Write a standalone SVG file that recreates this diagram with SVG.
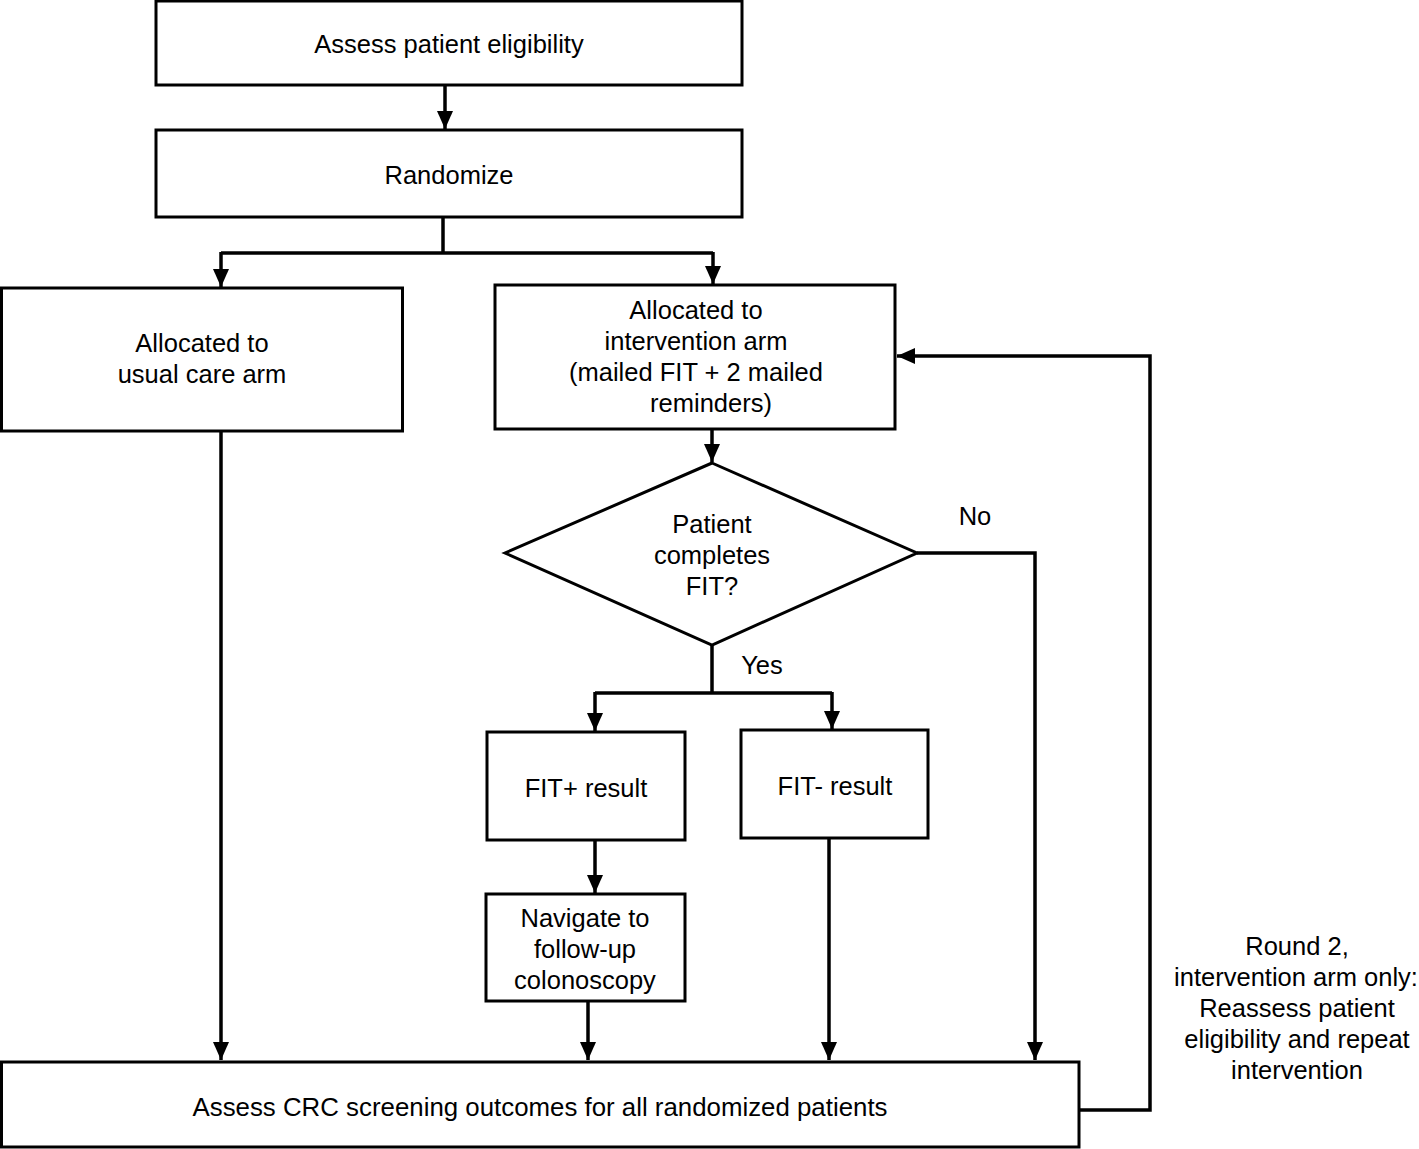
<svg xmlns="http://www.w3.org/2000/svg" width="1419" height="1149" viewBox="0 0 1419 1149">
<style>
.box{fill:#fff;stroke:#000;stroke-width:3}
.t{font-family:"Liberation Sans",Arial,sans-serif;font-size:25.5px;fill:#000;text-anchor:middle}
.c{fill:none;stroke:#000;stroke-width:3.5}
</style>
<defs>
<marker id="ah" markerUnits="userSpaceOnUse" markerWidth="20" markerHeight="18" refX="18" refY="8" orient="auto">
<path d="M0,0 L18,8 L0,16 Z" fill="#000"/>
</marker>
</defs>
<rect width="1419" height="1149" fill="#fff"/>
<g id="connectors">
<path class="c" d="M445,85 V129" marker-end="url(#ah)"/>
<path class="c" d="M443,217 V253"/>
<path class="c" d="M221,253 H713"/>
<path class="c" d="M221,252 V287" marker-end="url(#ah)"/>
<path class="c" d="M713,252 V284" marker-end="url(#ah)"/>
<path class="c" d="M712,429 V462" marker-end="url(#ah)"/>
<path class="c" d="M917,553 H1035 V1060" marker-end="url(#ah)"/>
<path class="c" d="M712,645 V693"/>
<path class="c" d="M595,693 H832"/>
<path class="c" d="M595,692 V731" marker-end="url(#ah)"/>
<path class="c" d="M832,692 V729" marker-end="url(#ah)"/>
<path class="c" d="M595,840 V893" marker-end="url(#ah)"/>
<path class="c" d="M221,431 V1060" marker-end="url(#ah)"/>
<path class="c" d="M588,1001 V1060" marker-end="url(#ah)"/>
<path class="c" d="M829,838 V1060" marker-end="url(#ah)"/>
<path class="c" d="M1079,1110 H1150 V356 H897" marker-end="url(#ah)"/>
<text class="t" x="975" y="525">No</text>
<text class="t" x="762" y="674">Yes</text>
</g>
<g id="n1">
<rect class="box" x="156" y="1" width="586" height="84"/>
<text class="t" x="449" y="53">Assess patient eligibility</text>
</g>
<g id="n2">
<rect class="box" x="156" y="130" width="586" height="87"/>
<text class="t" x="449" y="184">Randomize</text>
</g>
<g id="n3">
<rect class="box" x="1.5" y="288" width="401" height="143"/>
<text class="t" x="202" y="352">Allocated to</text>
<text class="t" x="202" y="383">usual care arm</text>
</g>
<g id="n4">
<rect class="box" x="495" y="285" width="400" height="144"/>
<text class="t" x="696" y="319">Allocated to</text>
<text class="t" x="696" y="350">intervention arm</text>
<text class="t" x="696" y="381">(mailed FIT + 2 mailed</text>
<text class="t" x="711" y="412">reminders)</text>
</g>
<g id="n5">
<polygon class="box" points="712,463 917,553 712,645 505,553"/>
<text class="t" x="712" y="533">Patient</text>
<text class="t" x="712" y="564">completes</text>
<text class="t" x="712" y="595">FIT?</text>
</g>
<g id="n6">
<rect class="box" x="487" y="732" width="198" height="108"/>
<text class="t" x="586" y="797">FIT+ result</text>
</g>
<g id="n7">
<rect class="box" x="741" y="730" width="187" height="108"/>
<text class="t" x="835" y="795">FIT- result</text>
</g>
<g id="n8">
<rect class="box" x="486" y="894" width="199" height="107"/>
<text class="t" x="585" y="927">Navigate to</text>
<text class="t" x="585" y="958">follow-up</text>
<text class="t" x="585" y="989">colonoscopy</text>
</g>
<g id="n9">
<rect class="box" x="1.5" y="1062" width="1077.5" height="85"/>
<text class="t" x="540" y="1116" textLength="695" lengthAdjust="spacingAndGlyphs">Assess CRC screening outcomes for all randomized patients</text>
</g>
<g id="note">
<text class="t" x="1297" y="955">Round 2,</text>
<text class="t" x="1296" y="986">intervention arm only:</text>
<text class="t" x="1297" y="1017">Reassess patient</text>
<text class="t" x="1297" y="1048">eligibility and repeat</text>
<text class="t" x="1297" y="1079">intervention</text>
</g>
</svg>
